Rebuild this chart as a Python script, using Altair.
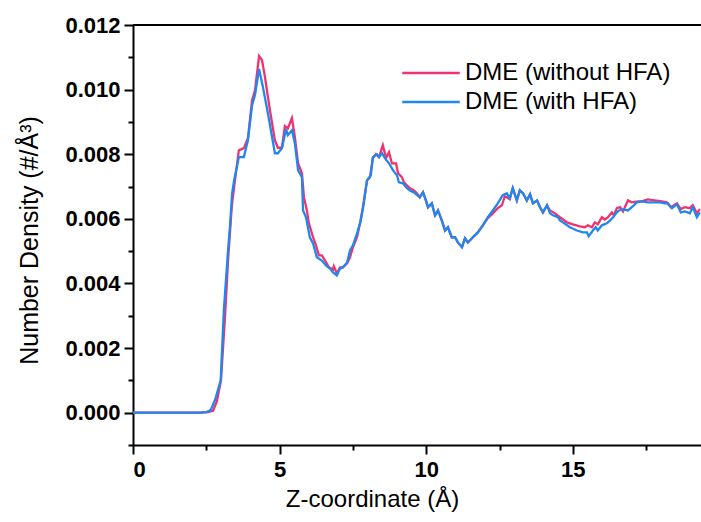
import altair as alt
import pandas as pd

# ---------------- data ----------------
SERIES = ["DME (without HFA)", "DME (with HFA)"]
COLORS = ["#F0326E", "#1E88F0"]

z_without = [
    0.0, 2.3, 2.55, 2.73, 2.86, 3.0, 3.14, 3.24, 3.37, 3.45,
    3.61, 3.78, 3.92, 4.06, 4.16, 4.30, 4.40, 4.50, 4.67, 4.84,
    4.94, 5.08, 5.18, 5.28, 5.42, 5.52, 5.63, 5.76, 5.83, 5.93,
    6.0, 6.14, 6.24, 6.34, 6.44, 6.55, 6.68, 6.82, 6.85, 6.95,
    7.06, 7.16, 7.3, 7.4, 7.5, 7.64, 7.74, 7.84, 7.98, 8.08,
    8.18, 8.28, 8.39, 8.52, 8.63, 8.73, 8.83, 8.97, 9.04, 9.17,
    9.24, 9.34, 9.44, 9.58, 9.68, 9.78, 9.89, 9.99, 10.06, 10.19,
    10.3, 10.4, 10.53, 10.64, 10.74, 10.87, 10.98, 11.08, 11.22, 11.32,
    11.42, 11.59, 11.76, 11.93, 12.1, 12.27, 12.44, 12.58, 12.68, 12.75,
    12.85, 12.95, 13.09, 13.19, 13.3, 13.43, 13.54, 13.64, 13.78, 13.88,
    13.98, 14.12, 14.22, 14.39, 14.56, 14.8, 15.0, 15.24, 15.41, 15.51,
    15.65, 15.75, 15.85, 15.99, 16.09, 16.2, 16.33, 16.4, 16.5, 16.61,
    16.71, 16.88, 17.01, 17.22, 17.35, 17.55, 17.79, 18.03, 18.2, 18.34,
    18.55, 18.68, 18.82, 18.99, 19.09, 19.23, 19.33,
]
density_without = [
    0.0, 0.0, 0.00002, 0.00006, 0.00035, 0.00100, 0.00300, 0.00470, 0.00640, 0.00700,
    0.00812, 0.00819, 0.00850, 0.00967, 0.00998, 0.01104, 0.01091, 0.01039, 0.00936, 0.00843,
    0.00820, 0.00820, 0.00887, 0.00880, 0.00912, 0.00853, 0.00772, 0.00741, 0.00667, 0.00626,
    0.00586, 0.00543, 0.00518, 0.00487, 0.00487, 0.00471, 0.00450, 0.00443, 0.00453, 0.00431,
    0.00450, 0.00450, 0.00462, 0.00481, 0.00512, 0.00543, 0.00586, 0.00636, 0.00719, 0.00729,
    0.00788, 0.00800, 0.00791, 0.00828, 0.00788, 0.00806, 0.00772, 0.00772, 0.00741, 0.00729,
    0.00713, 0.00704, 0.00695, 0.00688, 0.00679, 0.00667, 0.00682, 0.00657, 0.00636, 0.00648,
    0.00611, 0.00626, 0.00595, 0.00564, 0.00574, 0.00543, 0.00543, 0.00527, 0.00512, 0.00540,
    0.00527, 0.00543, 0.00558, 0.00580, 0.00602, 0.00617, 0.00633, 0.00642, 0.00670, 0.00667,
    0.00661, 0.00695, 0.00657, 0.00688, 0.00679, 0.00657, 0.00676, 0.00648, 0.00657, 0.00636,
    0.00620, 0.00642, 0.00626, 0.00617, 0.00605, 0.00589, 0.00583, 0.00577, 0.00574, 0.00580,
    0.00574, 0.00589, 0.00583, 0.00605, 0.00598, 0.00605, 0.00620, 0.00611, 0.00633, 0.00636,
    0.00623, 0.00657, 0.00651, 0.00654, 0.00654, 0.00660, 0.00657, 0.00654, 0.00651, 0.00636,
    0.00648, 0.00630, 0.00636, 0.00633, 0.00642, 0.00617, 0.00630,
]

z_with = [
    0.0, 2.3, 2.5, 2.65, 2.8, 2.99, 3.1, 3.24, 3.31, 3.38,
    3.45, 3.61, 3.78, 3.92, 4.06, 4.16, 4.30, 4.43, 4.60, 4.84,
    4.94, 5.08, 5.22, 5.28, 5.42, 5.52, 5.63, 5.76, 5.80, 5.9,
    6.03, 6.14, 6.27, 6.44, 6.58, 6.72, 6.82, 6.95, 7.06, 7.16,
    7.3, 7.4, 7.5, 7.64, 7.77, 7.87, 7.98, 8.11, 8.18, 8.32,
    8.39, 8.49, 8.59, 8.73, 8.87, 9.0, 9.07, 9.21, 9.31, 9.44,
    9.58, 9.78, 9.89, 9.99, 10.06, 10.19, 10.3, 10.4, 10.53, 10.64,
    10.74, 10.87, 10.98, 11.08, 11.22, 11.32, 11.42, 11.59, 11.76, 11.93,
    12.1, 12.27, 12.44, 12.61, 12.75, 12.85, 12.95, 13.09, 13.19, 13.3,
    13.43, 13.54, 13.64, 13.78, 13.88, 13.98, 14.12, 14.22, 14.32, 14.49,
    14.56, 14.66, 14.9, 15.14, 15.34, 15.48, 15.54, 15.68, 15.78, 15.85,
    15.99, 16.16, 16.27, 16.37, 16.47, 16.57, 16.71, 16.88, 17.05, 17.18,
    17.35, 17.55, 17.79, 17.97, 18.14, 18.24, 18.38, 18.55, 18.68, 18.82,
    18.99, 19.09, 19.23, 19.33,
]
density_with = [
    0.0, 0.0, 0.00002, 0.00008, 0.00040, 0.00100, 0.00320, 0.00500, 0.00580, 0.00679,
    0.00720, 0.00791, 0.00791, 0.00843, 0.00952, 0.00983, 0.01064, 0.01008, 0.00927, 0.00803,
    0.00803, 0.00819, 0.00878, 0.00859, 0.00874, 0.00834, 0.00750, 0.00729, 0.00626, 0.00605,
    0.00543, 0.00524, 0.00481, 0.00471, 0.00456, 0.00446, 0.00434, 0.00425, 0.00446, 0.00450,
    0.00465, 0.00502, 0.00518, 0.00555, 0.00595, 0.00648, 0.00719, 0.00735, 0.00791, 0.00800,
    0.00791, 0.00803, 0.00788, 0.00772, 0.00750, 0.00735, 0.00713, 0.00710, 0.00698, 0.00688,
    0.00682, 0.00667, 0.00682, 0.00657, 0.00636, 0.00648, 0.00611, 0.00626, 0.00595, 0.00564,
    0.00574, 0.00543, 0.00543, 0.00527, 0.00512, 0.00540, 0.00527, 0.00543, 0.00558, 0.00580,
    0.00605, 0.00626, 0.00648, 0.00673, 0.00679, 0.00664, 0.00695, 0.00657, 0.00688, 0.00679,
    0.00657, 0.00676, 0.00648, 0.00657, 0.00636, 0.00620, 0.00642, 0.00617, 0.00611, 0.00605,
    0.00595, 0.00589, 0.00574, 0.00564, 0.00558, 0.00558, 0.00546, 0.00564, 0.00574, 0.00564,
    0.00580, 0.00586, 0.00595, 0.00605, 0.00617, 0.00626, 0.00629, 0.00626, 0.00639, 0.00651,
    0.00654, 0.00651, 0.00651, 0.00651, 0.00648, 0.00648, 0.00633, 0.00645, 0.00620, 0.00623,
    0.00617, 0.00636, 0.00605, 0.00620,
]

x_major = [0, 5, 10, 15]
x_minor = [2.5, 7.5, 12.5, 17.5]
y_major = [0.0, 0.002, 0.004, 0.006, 0.008, 0.010, 0.012]
y_minor = [-0.001, 0.001, 0.003, 0.005, 0.007, 0.009, 0.011]
x_domain = [0, 19.37]
y_domain = [-0.001, 0.012]

# ---------------- table ----------------
rows = []
for z, d in zip(z_without, density_without):
    rows.append({"z": z, "density": d, "series": SERIES[0]})
for z, d in zip(z_with, density_with):
    rows.append({"z": z, "density": d, "series": SERIES[1]})
df = pd.DataFrame(rows)

W, H = 568, 420
FONT = "Liberation Sans"

xscale = alt.Scale(domain=x_domain, nice=False, zero=False)
yscale = alt.Scale(domain=y_domain, nice=False, zero=False)

lines = alt.Chart(df).mark_line(strokeWidth=2.3, clip=True).encode(
    x=alt.X("z:Q", scale=xscale,
            axis=alt.Axis(orient="bottom", values=x_major, format="d",
                          title="Z-coordinate (Å)", tickSize=9,
                          labelPadding=5, titleX=239, titleY=54,
                          titleAlign="center", titleBaseline="middle")),
    y=alt.Y("density:Q", scale=yscale,
            axis=alt.Axis(orient="left", values=y_major, format=".3f",
                          title="Number Density (#/Å³)", tickSize=9,
                          labelPadding=4, titleX=-104, titleY=H / 2 + 5,
                          titleAngle=270, titleAlign="center",
                          titleBaseline="middle", titleFontSize=25)),
    color=alt.Color("series:N",
                    scale=alt.Scale(domain=SERIES, range=COLORS),
                    sort=SERIES,
                    legend=alt.Legend(title="", orient="none",
                                      legendX=285, legendY=35,
                                      symbolType="M-2.5,0H2.5",
                                      symbolSize=529, symbolStrokeWidth=2.3,
                                      labelOffset=21, labelFont=FONT,
                                      labelFontSize=24, labelColor="black",
                                      labelLimit=400,
                                      rowPadding=4, padding=0)),
)

minor = alt.Chart(df).mark_point(opacity=0).encode(
    x=alt.X("z:Q", scale=xscale,
            axis=alt.Axis(orient="bottom", values=x_minor, labels=False,
                          title="", tickSize=5, domain=False)),
    y=alt.Y("density:Q", scale=yscale,
            axis=alt.Axis(orient="left", values=y_minor, labels=False,
                          title="", tickSize=5, domain=False)),
)

border = alt.Chart(pd.DataFrame({"k": [0]})).mark_rule(
    color="black", strokeWidth=2
).encode(x=alt.value(0), x2=alt.value(W), y=alt.value(0))

chart = alt.layer(lines, minor, border).resolve_axis(
    x="independent", y="independent"
).properties(
    width=W, height=H,
    autosize=alt.AutoSizeParams(type="none"),
    padding={"left": 133, "top": 25, "right": 0, "bottom": 77},
).configure(background="white").configure_view(stroke=None).configure_axis(
    grid=False, domainColor="black", domainWidth=2, tickColor="black",
    tickWidth=2, labelFont=FONT, labelFontWeight="bold", labelFontSize=22,
    labelColor="black", titleFont=FONT, titleFontWeight="normal",
    titleFontSize=24, titleColor="black",
)

chart.save("out.html", embed_options={"renderer": "svg", "actions": False})
